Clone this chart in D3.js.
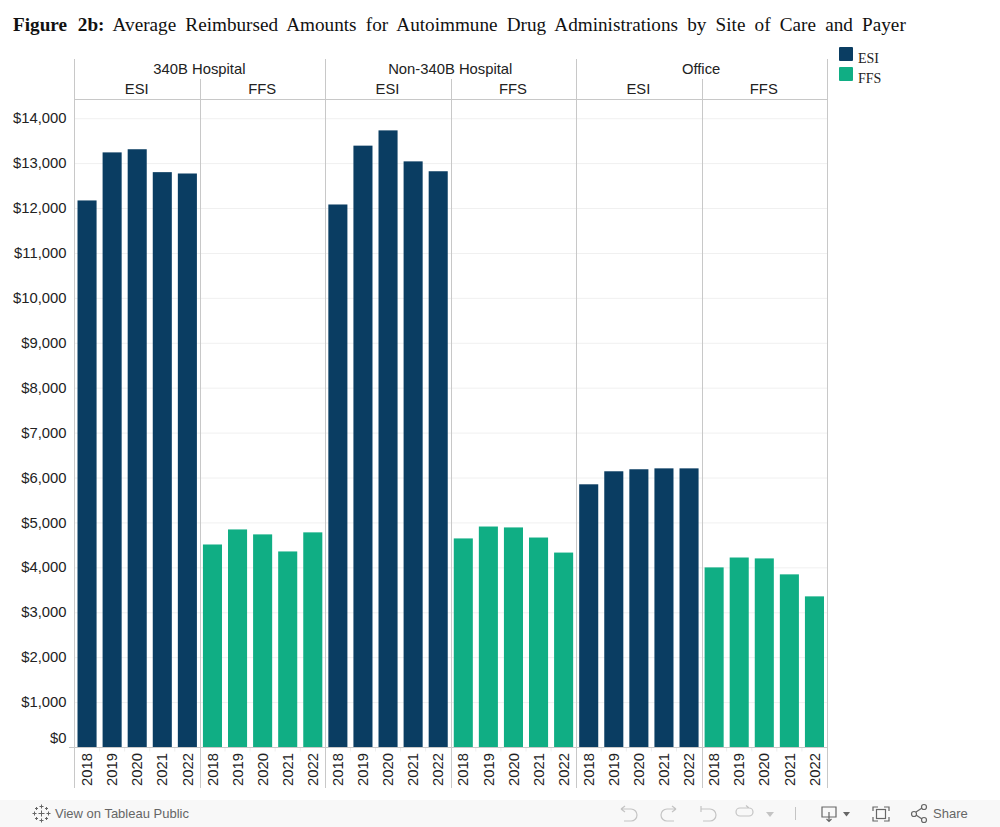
<!DOCTYPE html>
<html>
<head>
<meta charset="utf-8">
<script src="https://cdn.jsdelivr.net/npm/d3@7"></script>
<style>
html, body { margin: 0; padding: 0; background: #fff; overflow: hidden; }
svg { display: block; }
text { font-family: "Liberation Sans", Arial, sans-serif; fill: #222; }
</style>
</head>
<body>
<svg id="chart" width="1000" height="827"></svg>
<script>
const sites = ["340B Hospital", "Non-340B Hospital", "Office"];
const payers = ["ESI", "FFS"];
const years = ["2018", "2019", "2020", "2021", "2022"];
const yTicks = d3.range(0, 15000, 1000);

const hospital340Esi = [12180, 13250, 13320, 12810, 12780];
const hospital340Ffs = [4520, 4855, 4745, 4365, 4790];
const nonHospitalEsi = [12090, 13400, 13740, 13050, 12830];
const nonHospitalFfs = [4655, 4920, 4900, 4675, 4340];
const officeEsi = [5860, 6150, 6195, 6215, 6215];
const officeFfs = [4010, 4230, 4210, 3855, 3365];

const panelValues = [hospital340Esi, hospital340Ffs, nonHospitalEsi, nonHospitalFfs, officeEsi, officeFfs];

const svg = d3.select("#chart");
const left = 74.5, right = 827, headTop = 59, headMid = 79, headBottom = 99.5, bottom = 747.5, axisBottom = 788;
const lineColor = "#c8c8c8";
const labelSize = "14.8px";

const color = d3.scaleOrdinal().domain(payers).range(["#0a3d62", "#10ae84"]);

const y = d3.scaleLinear().domain([0, 14000]).range([747.5, 118.7]);
const siteX = d3.scaleBand().domain(sites).range([left, right]);
const payerX = d3.scaleBand().domain(payers).range([0, siteX.bandwidth()]);
const yearX = d3.scaleBand().domain(years).range([0, payerX.bandwidth()]).paddingInner(0.24).paddingOuter(0.12);

// title
const title = svg.append("text").attr("x", 13).attr("y", 31)
    .style("font-family", '"Liberation Serif", "Times New Roman", serif')
    .style("font-size", "19.2px")
    .style("word-spacing", "4.4px")
    .style("fill", "#111");
title.append("tspan").style("font-weight", "bold").style("word-spacing", "6px").text("Figure 2b:");
title.append("tspan").text(" Average Reimbursed Amounts for Autoimmune Drug Administrations by Site of Care and Payer");

// gridlines
svg.append("g").selectAll("line").data(yTicks.slice(1)).join("line")
    .attr("x1", left).attr("x2", right)
    .attr("y1", d => y(d)).attr("y2", d => y(d))
    .attr("stroke", "#f0f0f0").attr("stroke-width", 1);

// y axis
const yAxis = d3.axisLeft(y).tickValues(yTicks)
    .tickFormat(d => "$" + d3.format(",")(d)).tickSize(0).tickPadding(8);
const yAxisGroup = svg.append("g").attr("transform", `translate(${left},0)`).call(yAxis);
yAxisGroup.select(".domain").remove();
yAxisGroup.selectAll("text").style("font-size", labelSize).style("fill", "#222")
    .attr("dy", d => d === 0 ? "-0.36em" : "0.28em");

// panels
sites.forEach((site, s) => {
    payers.forEach((payer, p) => {
        const x0 = siteX(site) + payerX(payer);
        const g = svg.append("g").attr("transform", `translate(${x0},0)`);
        const values = panelValues[s * 2 + p];

        g.selectAll("rect").data(values).join("rect")
            .attr("x", (d, i) => yearX(years[i]))
            .attr("width", yearX.bandwidth())
            .attr("y", d => y(d))
            .attr("height", d => y(0) - y(d))
            .attr("fill", color(payer));

        const xAxis = d3.axisBottom(yearX).tickSize(0).tickPadding(6);
        const xg = g.append("g").attr("transform", `translate(0,${bottom})`).call(xAxis);
        xg.select(".domain").remove();
        xg.selectAll("text")
            .attr("transform", "rotate(-90)")
            .attr("x", -5.5).attr("y", 0).attr("dy", "0.35em")
            .style("text-anchor", "end").style("font-size", labelSize).style("fill", "#222");

        // small separators between years under the axis
        g.selectAll("line.sep").data(years.slice(1)).join("line").attr("class", "sep")
            .attr("x1", d => yearX(d) - yearX.step() * 0.12)
            .attr("x2", d => yearX(d) - yearX.step() * 0.12)
            .attr("y1", bottom).attr("y2", bottom + 4)
            .attr("stroke", "#eeeeee");

        g.append("text").attr("x", payerX.bandwidth() / 2 - 0.5).attr("y", headBottom - 5.5)
            .attr("text-anchor", "middle").style("font-size", labelSize).text(payer);
    });
    svg.append("text").attr("x", siteX(site) + siteX.bandwidth() / 2 - 0.5).attr("y", 74)
        .attr("text-anchor", "middle").style("font-size", labelSize).text(site);
});

// frame lines
const vLine = (x, y1, y2) => svg.append("line").attr("x1", x).attr("x2", x).attr("y1", y1).attr("y2", y2)
    .attr("stroke", lineColor).attr("stroke-width", 1);
sites.forEach(site => vLine(Math.floor(siteX(site)) + 0.5, headTop, axisBottom));
vLine(827.5, headTop, axisBottom);
sites.forEach(site => vLine(Math.round(siteX(site) + payerX("FFS")) + 0.5, headMid, axisBottom));
svg.append("line").attr("x1", left).attr("x2", right).attr("y1", headBottom).attr("y2", headBottom).attr("stroke", lineColor);
svg.append("line").attr("x1", 69).attr("x2", right).attr("y1", bottom).attr("y2", bottom).attr("stroke", lineColor);

// legend
const legend = svg.append("g").selectAll("g").data(payers).join("g")
    .attr("transform", (d, i) => `translate(839,${47 + i * 20})`);
legend.append("rect").attr("width", 14).attr("height", 14).attr("rx", 1).attr("fill", d => color(d));
legend.append("text").attr("x", 19).attr("y", 16)
    .style("font-family", '"Liberation Serif", "Times New Roman", serif')
    .style("font-size", "14px").text(d => d);

// toolbar
const bar = svg.append("g");
bar.append("rect").attr("x", 0).attr("y", 800).attr("width", 1000).attr("height", 27).attr("fill", "#f8f8f8");
const grey = "#666", light = "#c4c4c4";
bar.append("text").attr("x", 55).attr("y", 818).style("font-size", "13px").style("fill", grey).text("View on Tableau Public");
bar.append("text").attr("x", 933).attr("y", 818).style("font-size", "13px").style("fill", grey).text("Share");

// tableau logo
const logo = bar.append("g").attr("stroke", grey).attr("fill", "none").attr("stroke-width", 1);
[[41.5, 813.5, 3], [41.5, 806.5, 2], [41.5, 820.5, 2], [34.5, 813.5, 2], [48.5, 813.5, 2],
 [36.5, 808.5, 1.5], [46.5, 808.5, 1.5], [36.5, 818.5, 1.5], [46.5, 818.5, 1.5]].forEach(([cx, cy, r]) => {
    logo.append("path").attr("d", `M${cx - r},${cy}H${cx + r}M${cx},${cy - r}V${cy + r}`);
});

const icons = bar.append("g").attr("fill", "none").attr("stroke-width", 1.2);
// undo, redo, revert, refresh
icons.append("path").attr("stroke", light).attr("d", "M621,809H631a6,6 0 0 1 0,12H624M621,809l4,-3M621,809l4,3");
icons.append("path").attr("stroke", light).attr("d", "M676,809H667a6,6 0 0 0 0,12H674M676,809l-4,-3M676,809l-4,3");
icons.append("path").attr("stroke", light).attr("d", "M701,806V812M701,809H710a6,6 0 0 1 0,12H703");
icons.append("path").attr("stroke", light).attr("d", "M740,808H749a4,4 0 0 1 0,8H740a4,4 0 0 1 0,-8M749,808l-3,-2.5");
bar.append("path").attr("fill", light).attr("d", "M766,812h8l-4,5z");
bar.append("line").attr("x1", 795.5).attr("x2", 795.5).attr("y1", 807).attr("y2", 820).attr("stroke", light);
// download
icons.append("path").attr("stroke", grey).attr("d", "M822,807H836V817H822ZM829,812V821M826.5,819l2.5,2.5l2.5,-2.5");
bar.append("path").attr("fill", grey).attr("d", "M843,812h7l-3.5,4.5z");
// full screen
icons.append("path").attr("stroke", grey).attr("d", "M873,811V807H878M884,807H889V811M889,817V821H884M878,821H873V817");
icons.append("rect").attr("stroke", grey).attr("x", 876.5).attr("y", 809.5).attr("width", 9).attr("height", 9);
// share
icons.append("path").attr("stroke", grey).attr("d", "M916,812L922,808M916,815L922,819");
[[914, 814, 2.5], [924, 807, 2.5], [924, 820, 2.5]].forEach(([cx, cy, r]) => {
    icons.append("circle").attr("stroke", grey).attr("cx", cx).attr("cy", cy).attr("r", r);
});
</script>
</body>
</html>
